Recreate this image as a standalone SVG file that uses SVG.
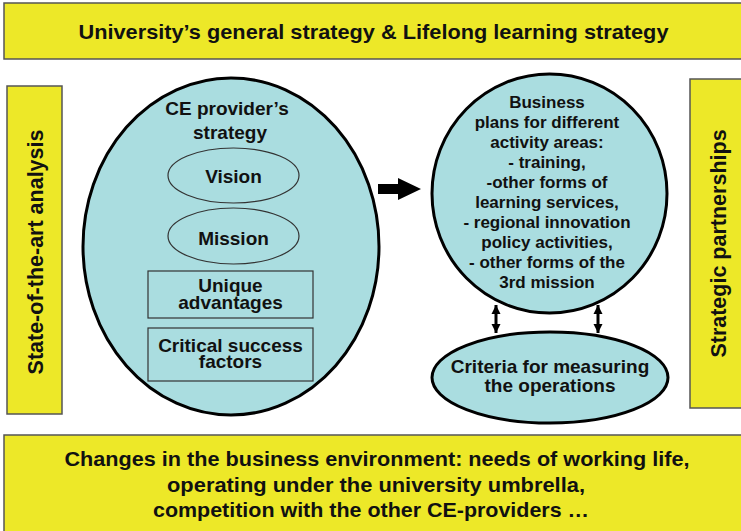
<svg xmlns="http://www.w3.org/2000/svg" width="741" height="531" viewBox="0 0 741 531">
<style>
.band{fill:#ede828;stroke:#555;stroke-width:1.5}
.big{fill:#aadde0;stroke:#000;stroke-width:3}
.thin{fill:#aadde0;stroke:#333;stroke-width:1.2}
text{font-family:"Liberation Sans",Arial,sans-serif;font-weight:bold;fill:#111;text-anchor:middle}
.t1{font-size:21px}
.tv{font-size:21.5px}
.t2{font-size:19px}
.t3{font-size:17px}
</style>
<defs>
<marker id="ah" viewBox="0 0 10 10" refX="10" refY="5" markerWidth="9" markerHeight="10" markerUnits="userSpaceOnUse" orient="auto-start-reverse">
<path d="M0,0 L10,5 L0,10 Z" fill="#000"/>
</marker>
</defs>
<g id="top">
<rect class="band" x="4" y="3" width="745" height="56"/>
<text class="t1" x="373.5" y="39" textLength="590" lengthAdjust="spacingAndGlyphs">University’s general strategy &amp; Lifelong learning strategy</text>
</g>
<g id="left">
<rect class="band" x="7" y="86" width="55" height="328"/>
<text class="tv" transform="translate(43,252) rotate(-90)">State-of-the-art analysis</text>
</g>
<g id="right">
<rect class="band" x="690" y="79" width="60" height="329"/>
<text class="tv" transform="translate(726,243.5) rotate(-90)">Strategic partnerships</text>
</g>
<g id="bottom">
<rect class="band" x="4" y="435" width="745" height="100"/>
<text class="t1" x="377" y="466" textLength="625" lengthAdjust="spacingAndGlyphs">Changes in the business environment: needs of working life,</text>
<text class="t1" x="376" y="492" textLength="418" lengthAdjust="spacingAndGlyphs">operating under the university umbrella,</text>
<text class="t1" x="371" y="517" textLength="436" lengthAdjust="spacingAndGlyphs">competition with the other CE-providers …</text>
</g>
<g id="strategy">
<ellipse class="big" cx="231" cy="246.5" rx="148" ry="168.5"/>
<text class="t2" x="227" y="115">CE provider’s</text>
<text class="t2" x="230" y="139">strategy</text>
</g>
<g id="vision">
<ellipse class="thin" cx="233.5" cy="175.5" rx="65.5" ry="27.5"/>
<text class="t2" x="233.5" y="183">Vision</text>
</g>
<g id="mission">
<ellipse class="thin" cx="233.5" cy="236" rx="65.5" ry="28"/>
<text class="t2" x="233.5" y="245">Mission</text>
</g>
<g id="unique">
<rect class="thin" x="148" y="271" width="165" height="47"/>
<text class="t2" x="230.5" y="292">Unique</text>
<text class="t2" x="230.5" y="309">advantages</text>
</g>
<g id="csf">
<rect class="thin" x="148" y="328" width="165" height="53"/>
<text class="t2" x="230.5" y="352">Critical success</text>
<text class="t2" x="230.5" y="368">factors</text>
</g>
<g id="business">
<ellipse class="big" cx="549.5" cy="193.5" rx="117.5" ry="119.5"/>
<text class="t3" x="547" y="108">Business</text>
<text class="t3" x="547" y="128">plans for different</text>
<text class="t3" x="547" y="148">activity areas:</text>
<text class="t3" x="547" y="168">- training,</text>
<text class="t3" x="547" y="188">-other forms of</text>
<text class="t3" x="547" y="208">learning services,</text>
<text class="t3" x="547" y="228">- regional innovation</text>
<text class="t3" x="547" y="248">policy activities,</text>
<text class="t3" x="547" y="268">- other forms of the</text>
<text class="t3" x="547" y="288">3rd mission</text>
</g>
<g id="criteria">
<ellipse class="big" cx="550" cy="377.5" rx="118" ry="45.5"/>
<text class="t2" x="550" y="373">Criteria for measuring</text>
<text class="t2" x="550" y="392">the operations</text>
</g>
<g id="connectors">
<path d="M378,184 H398 V178 L421,189 L398,200 V194 H378 Z" fill="#000"/>
<line x1="496" y1="305" x2="496" y2="333" stroke="#000" stroke-width="3" marker-start="url(#ah)" marker-end="url(#ah)"/>
<line x1="598" y1="305" x2="598" y2="333" stroke="#000" stroke-width="3" marker-start="url(#ah)" marker-end="url(#ah)"/>
</g>
</svg>
